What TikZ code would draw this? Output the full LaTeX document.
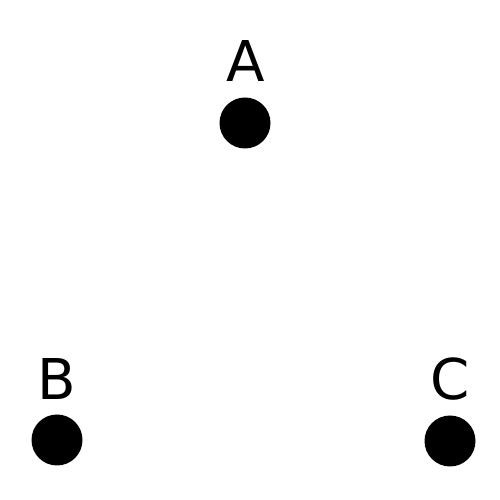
\documentclass[tikz,border=0pt]{standalone}
\usepackage{fontspec}
\setmainfont{DejaVu Sans}
\usepackage{tikz}
\usetikzlibrary{positioning}

\begin{document}
\begin{tikzpicture}[
      dot/.style={circle, fill=black, draw=none, inner sep=0pt,
                  minimum size=1.02cm},
      lbl/.style={font=\fontsize{32}{38}\selectfont, inner sep=0pt,
                  anchor=base}]
    \useasboundingbox (0,0) rectangle (10,10);
    % Pontos
    \node[dot] (A) at (4.90, 7.54) {};
    \node[dot] (B) at (1.14, 1.20) {};
    \node[dot] (C) at (9.00, 1.18) {};
    % Rotulos
    \node[lbl] (labA) at (4.92, 8.36) {A};
    \node[lbl] (labB) at (1.14, 2.00) {B};
    \node[lbl] (labC) at (9.00, 2.00) {C};
\end{tikzpicture}
\end{document}
